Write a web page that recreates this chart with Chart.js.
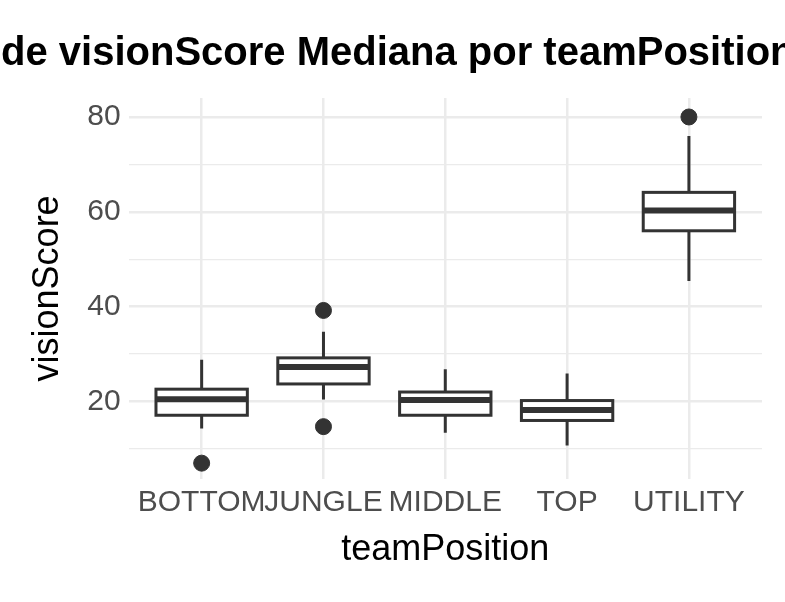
<!DOCTYPE html>
<html>
<head>
<meta charset="utf-8">
<script src="https://cdn.jsdelivr.net/npm/chart.js@4"></script>
<style>
  body { margin: 0; background: #fff; }
</style>
</head>
<body>
<canvas id="chart" width="785" height="602"></canvas>
<script>
// data
var categories = ['BOTTOM', 'JUNGLE', 'MIDDLE', 'TOP', 'UTILITY'];
var whiskerLow  = [14.3, 20.4, 13.4, 10.7, 45.4];
var q1          = [17.1, 23.7, 17.1, 16.0, 56.0];
var median      = [20.5, 27.3, 20.3, 18.2, 60.3];
var q3          = [22.6, 29.2, 22.0, 20.2, 64.1];
var whiskerHigh = [28.8, 34.7, 26.8, 25.9, 76.0];
var outlierCat  = [1, 2, 2, 5];
var outlierVal  = [7.0, 39.2, 14.7, 80.0];
var yTicks = [10, 20, 30, 40, 50, 60, 70, 80];
var titleText = 'Distribución de visionScore Mediana por teamPosition';

var outliers = outlierCat.map(function(c, i) { return { x: c, y: outlierVal[i] }; });

// title drawn by hand so it clips at the canvas edges like the reference
var titlePlugin = {
    id: 'clippedTitle',
    afterDraw: function(chart) {
        var ctx = chart.ctx;
        ctx.save();
        ctx.font = 'bold 40px "Liberation Sans"';
        ctx.fillStyle = '#000';
        ctx.textBaseline = 'alphabetic';
        var lead = ctx.measureText('Distribución ').width;
        ctx.fillText(titleText, 1 - lead, 65);
        ctx.restore();
    }
};

var boxPlugin = {
    id: 'boxes',
    beforeDatasetsDraw: function(chart) {
        var ctx = chart.ctx, xs = chart.scales.x, ys = chart.scales.y;
        ctx.save();
        ctx.strokeStyle = '#333333';
        ctx.lineWidth = 3;
        for (var i = 0; i < categories.length; i++) {
            var c = i + 1;
            var xl = xs.getPixelForValue(c - 0.375), xr = xs.getPixelForValue(c + 0.375);
            var xm = xs.getPixelForValue(c);
            ctx.beginPath();
            ctx.moveTo(xm, ys.getPixelForValue(whiskerHigh[i]));
            ctx.lineTo(xm, ys.getPixelForValue(q3[i]));
            ctx.moveTo(xm, ys.getPixelForValue(q1[i]));
            ctx.lineTo(xm, ys.getPixelForValue(whiskerLow[i]));
            ctx.stroke();
            ctx.fillStyle = '#fff';
            var yt = ys.getPixelForValue(q3[i]), yb = ys.getPixelForValue(q1[i]);
            ctx.fillRect(xl, yt, xr - xl, yb - yt);
            ctx.strokeRect(xl, yt, xr - xl, yb - yt);
            ctx.lineWidth = 6;
            ctx.beginPath();
            ctx.moveTo(xl, ys.getPixelForValue(median[i]));
            ctx.lineTo(xr, ys.getPixelForValue(median[i]));
            ctx.stroke();
            ctx.lineWidth = 3;
        }
        ctx.restore();
    }
};

var ctx = document.getElementById('chart').getContext('2d');
var chart = new Chart(ctx, {
    type: 'scatter',
    data: {
        datasets: [{
            data: outliers,
            pointRadius: 8,
            pointHoverRadius: 8,
            backgroundColor: '#333333',
            borderColor: '#333333'
        }]
    },
    options: {
        responsive: false,
        animation: false,
        layout: { padding: { left: 22, right: 23, top: 98, bottom: 26 } },
        plugins: {
            legend: { display: false },
            tooltip: { enabled: false },
            title: { display: false }
        },
        scales: {
            x: {
                type: 'linear',
                min: 0.4,
                max: 5.6,
                afterBuildTicks: function(axis) {
                    axis.ticks = categories.map(function(c, i) { return { value: i + 1 }; });
                },
                ticks: {
                    autoSkip: false,
                    maxRotation: 0,
                    padding: 6,
                    color: '#4d4d4d',
                    font: { family: 'Liberation Sans', size: 30 },
                    callback: function(v) { return categories[v - 1]; }
                },
                grid: { color: '#ebebeb', lineWidth: 2.5, drawTicks: false },
                border: { display: false },
                title: {
                    display: true, text: 'teamPosition', color: '#000',
                    font: { family: 'Liberation Sans', size: 36 }, padding: { top: 2 }
                }
            },
            y: {
                min: 3.7,
                max: 84,
                afterBuildTicks: function(axis) {
                    axis.ticks = yTicks.map(function(v) { return { value: v }; });
                },
                ticks: {
                    autoSkip: false,
                    color: '#4d4d4d',
                    padding: 8,
                    font: { family: 'Liberation Sans', size: 30 },
                    callback: function(v) { return v % 20 === 0 ? String(v) : ''; }
                },
                grid: {
                    color: '#ebebeb',
                    drawTicks: false,
                    lineWidth: function(c) { return c.tick && c.tick.value % 20 === 0 ? 2.5 : 1.2; }
                },
                border: { display: false },
                title: {
                    display: true, text: 'visionScore', color: '#000',
                    font: { family: 'Liberation Sans', size: 36 }, padding: { bottom: 10 }
                }
            }
        }
    },
    plugins: [boxPlugin, titlePlugin]
});
</script>
</body>
</html>
